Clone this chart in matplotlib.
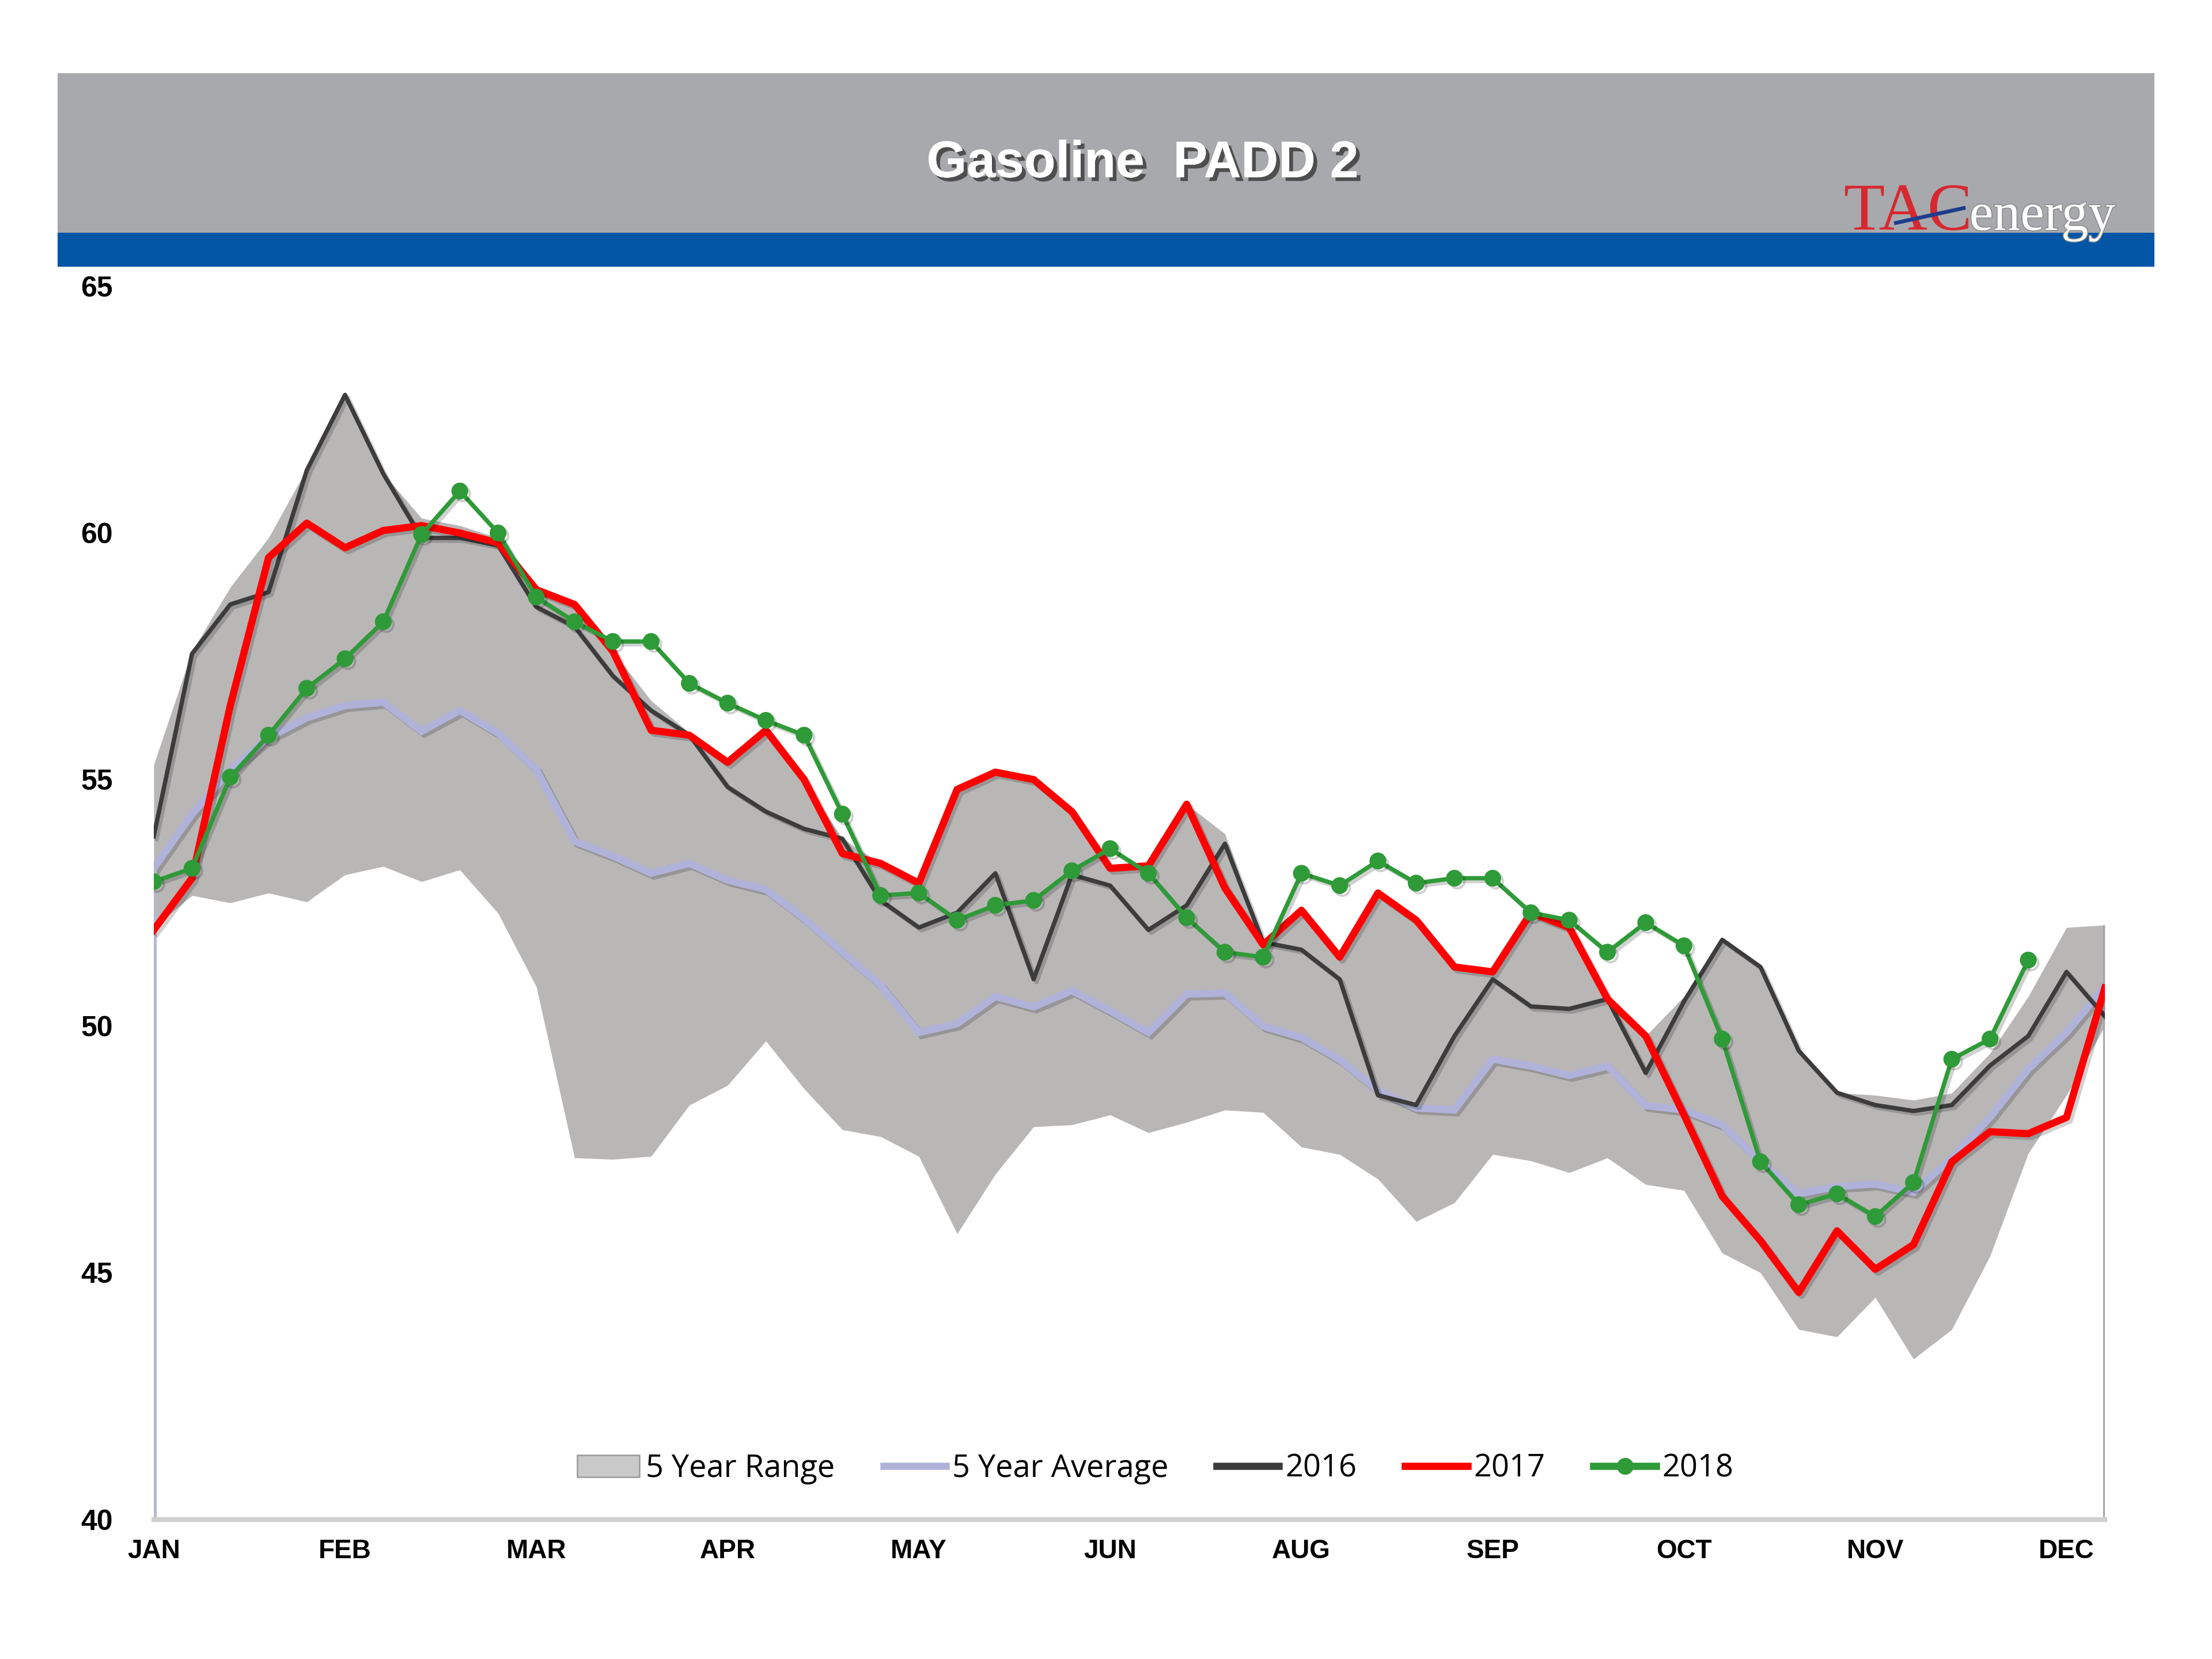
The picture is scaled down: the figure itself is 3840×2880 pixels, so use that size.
import numpy as np
import matplotlib
matplotlib.use("Agg")
import matplotlib.pyplot as plt
import matplotlib.patheffects as pe
from matplotlib.patches import Rectangle, Patch
from matplotlib.lines import Line2D

# ---------------- data ----------------
month_labels = ['JAN', 'FEB', 'MAR', 'APR', 'MAY', 'JUN', 'AUG', 'SEP', 'OCT', 'NOV', 'DEC']

range_upper = [55.3, 57.6, 58.9, 59.9, 61.3, 62.8, 61.2, 60.3, 60.15, 59.9,
               58.85, 58.55, 57.6, 56.6, 55.95, 55.35, 56.0, 55.0, 53.8, 53.3,
               52.9, 54.8, 55.15, 55.0, 54.35, 53.2, 53.25, 54.5, 53.9, 51.7,
               52.35, 51.4, 52.7, 52.15, 51.2, 51.1, 52.35, 52.05, 50.6, 49.8,
               50.6, 51.75, 51.2, 49.5, 48.65, 48.6, 48.5, 48.64, 49.45, 50.6,
               52.0, 52.05]

range_lower = [52.0, 52.65, 52.5, 52.7, 52.52, 53.07, 53.24, 52.93, 53.17, 52.29,
               50.8, 47.33, 47.3, 47.36, 48.4, 48.8, 49.7, 48.73, 47.9, 47.76,
               47.36, 45.79, 47.0, 47.96, 48.0, 48.2, 47.84, 48.05, 48.3, 48.25,
               47.55, 47.4, 46.9, 46.04, 46.42, 47.4, 47.27, 47.03, 47.33, 46.79,
               46.67, 45.4, 45.0, 43.85, 43.7, 44.5, 43.25, 43.85, 45.34, 47.42,
               48.6, 50.0]

avg_5yr = [53.2, 54.3, 55.2, 55.85, 56.25, 56.5, 56.57, 55.98, 56.4, 55.94,
           55.2, 53.75, 53.45, 53.1, 53.3, 52.96, 52.77, 52.18, 51.5, 50.83,
           49.87, 50.05, 50.6, 50.39, 50.72, 50.31, 49.87, 50.65, 50.67, 50.0,
           49.77, 49.32, 48.7, 48.34, 48.3, 49.33, 49.19, 49.0, 49.19, 48.39,
           48.3, 48.0, 47.25, 46.6, 46.75, 46.8, 46.63, 47.33, 48.15, 49.13,
           49.87, 50.8]

y2016 = [53.85, 57.55, 58.55, 58.8, 61.27, 62.8, 61.2, 59.9, 59.9, 59.75,
         58.5, 58.1, 57.1, 56.4, 55.9, 54.85, 54.35, 54.0, 53.8, 52.55,
         52.0, 52.3, 53.1, 50.95, 53.07, 52.85, 51.95, 52.45, 53.7, 51.7,
         51.55, 50.95, 48.6, 48.4, 49.8, 50.95, 50.4, 50.35, 50.55, 49.05,
         50.5, 51.75, 51.2, 49.5, 48.65, 48.4, 48.28, 48.4, 49.2, 49.8,
         51.1, 50.2]

y2017 = [51.95, 53.0, 56.5, 59.5, 60.2, 59.7, 60.05, 60.15, 60.0, 59.8,
         58.85, 58.55, 57.6, 56.0, 55.9, 55.35, 56.0, 55.0, 53.5, 53.3,
         52.9, 54.8, 55.15, 55.0, 54.35, 53.2, 53.25, 54.5, 52.8, 51.65,
         52.35, 51.4, 52.7, 52.15, 51.2, 51.1, 52.3, 52.0, 50.55, 49.8,
         48.2, 46.55, 45.65, 44.6, 45.85, 45.07, 45.57, 47.25, 47.86, 47.82,
         48.15, 50.77]

y2018 = [52.93, 53.2, 55.05, 55.9, 56.85, 57.45, 58.2, 59.97, 60.85, 60.0,
         58.7, 58.2, 57.8, 57.8, 56.95, 56.55, 56.2, 55.9, 54.3, 52.65,
         52.7, 52.15, 52.45, 52.55, 53.15, 53.6, 53.1, 52.2, 51.5, 51.4,
         53.1, 52.85, 53.35, 52.9, 53.0, 53.0, 52.3, 52.15, 51.5, 52.1,
         51.63, 49.74, 47.25, 46.38, 46.6, 46.14, 46.83, 49.33, 49.74, 51.34]

y_ticks = [40, 45, 50, 55, 60, 65]

# ---------------- styling ----------------
W, H = 1568.0, 1176.0  # layout reference grid


def fx(x):
    return x / W


def fy(y):
    return 1 - y / H


c_band = '#B9B6B6'
c_avg = '#B0B2DA'
c_2016 = '#3C3C3C'
c_2017 = '#FF0000'
c_2018 = '#2F9A38'

fig = plt.figure(figsize=(12.8, 9.6), dpi=300)
fig.patch.set_facecolor('white')

# ---- header banner ----
fig.patches.append(Rectangle((fx(41), fy(165)), fx(1527) - fx(41), fy(52) - fy(165),
                             transform=fig.transFigure, facecolor='#A7A9AC',
                             edgecolor='none', zorder=0))
fig.patches.append(Rectangle((fx(41), fy(189)), fx(1527) - fx(41), fy(165) - fy(189),
                             transform=fig.transFigure, facecolor='#0355A6',
                             edgecolor='none', zorder=1))

fig.text(fx(810), fy(116), 'Gasoline  PADD 2', ha='center', va='center',
         fontsize=21.5, fontweight='bold', family='Liberation Sans', color='white',
         path_effects=[pe.withSimplePatchShadow(offset=(1.6, -1.6), shadow_rgbFace='#303030',
                                                alpha=0.75), pe.Normal()], zorder=5)

# ---- logo ----
fig.text(fx(1307), fy(163), 'TAC', ha='left', va='baseline', fontsize=28,
         family='Liberation Serif', color='#D7282F', zorder=6)
fig.text(fx(1396), fy(163), 'energy', ha='left', va='baseline', fontsize=22.5,
         family='Liberation Serif', color='white',
         path_effects=[pe.withStroke(linewidth=0.8, foreground='#8C8C8C')], zorder=6)
fig.add_artist(Line2D([fx(1344), fx(1392)], [fy(158), fy(147.5)],
                      transform=fig.transFigure, color='#1E3C8C', lw=1.6, zorder=7))

# ---- axes ----
ax = fig.add_axes([fx(109), fy(1077), fx(1492) - fx(109), fy(203) - fy(1077)])
ax.set_facecolor('white')
x_all = np.arange(len(avg_5yr))
x18 = np.arange(len(y2018))

ax.fill_between(x_all, range_lower, range_upper, color=c_band, lw=0, zorder=1)

shadow = [pe.SimpleLineShadow(offset=(1.2, -1.2), alpha=0.18), pe.Normal()]

ax.plot(x_all, avg_5yr, color=c_avg, lw=3.0, zorder=2, solid_joinstyle='miter',
        path_effects=shadow)
ax.plot(x_all, y2016, color=c_2016, lw=1.8, zorder=3, path_effects=shadow)
ax.plot(x_all, y2017, color=c_2017, lw=3.0, zorder=4, path_effects=shadow)
ax.plot(x18, y2018, color=c_2018, lw=1.8, marker='o', markersize=6,
        markerfacecolor=c_2018, markeredgecolor=c_2018, zorder=5, path_effects=shadow)

# edge verticals seen in the original
ax.vlines(x_all[0], 40, avg_5yr[0], color='#B6B8CE', lw=2.4, zorder=2)
ax.vlines(x_all[-1], 40, range_upper[-1], color='#A4A4AA', lw=1.4, zorder=2)

ax.set_xlim(x_all[0], x_all[-1])
ax.set_ylim(y_ticks[0], y_ticks[-1])
ax.set_yticks(y_ticks)
ax.set_yticklabels([str(v) for v in y_ticks])
ax.set_xticks(x_all[::5])
ax.set_xticklabels(month_labels)

for s in ['top', 'right', 'left']:
    ax.spines[s].set_visible(False)
ax.spines['bottom'].set_color('#CFCFCF')
ax.spines['bottom'].set_linewidth(2.0)

ax.tick_params(axis='both', length=0)
ax.tick_params(axis='y', pad=17)
ax.tick_params(axis='x', pad=8)
for lab in ax.get_yticklabels():
    lab.set_fontfamily('Liberation Sans')
    lab.set_fontweight('bold')
    lab.set_fontsize(12)
for lab in ax.get_xticklabels():
    lab.set_fontfamily('Liberation Sans')
    lab.set_fontweight('bold')
    lab.set_fontsize(11)

handles = [
    Patch(facecolor='#C9C9C9', edgecolor='#9A9A9A', linewidth=0.6),
    Line2D([], [], color=c_avg, lw=3.0),
    Line2D([], [], color=c_2016, lw=3.0),
    Line2D([], [], color=c_2017, lw=3.0),
    Line2D([], [], color=c_2018, lw=3.0, marker='o', markersize=6),
]
labels = ['5 Year Range', '5 Year Average', '2016', '2017', '2018']
leg = ax.legend(handles, labels, loc='center', bbox_to_anchor=(0.5134, 0.0412),
                ncol=5, frameon=False, handlelength=2.0, handleheight=0.7,
                handletextpad=0.2, columnspacing=1.55,
                prop={'family': 'Open Sans', 'size': 13})

fig.savefig('out.png', dpi=300, facecolor='white')
